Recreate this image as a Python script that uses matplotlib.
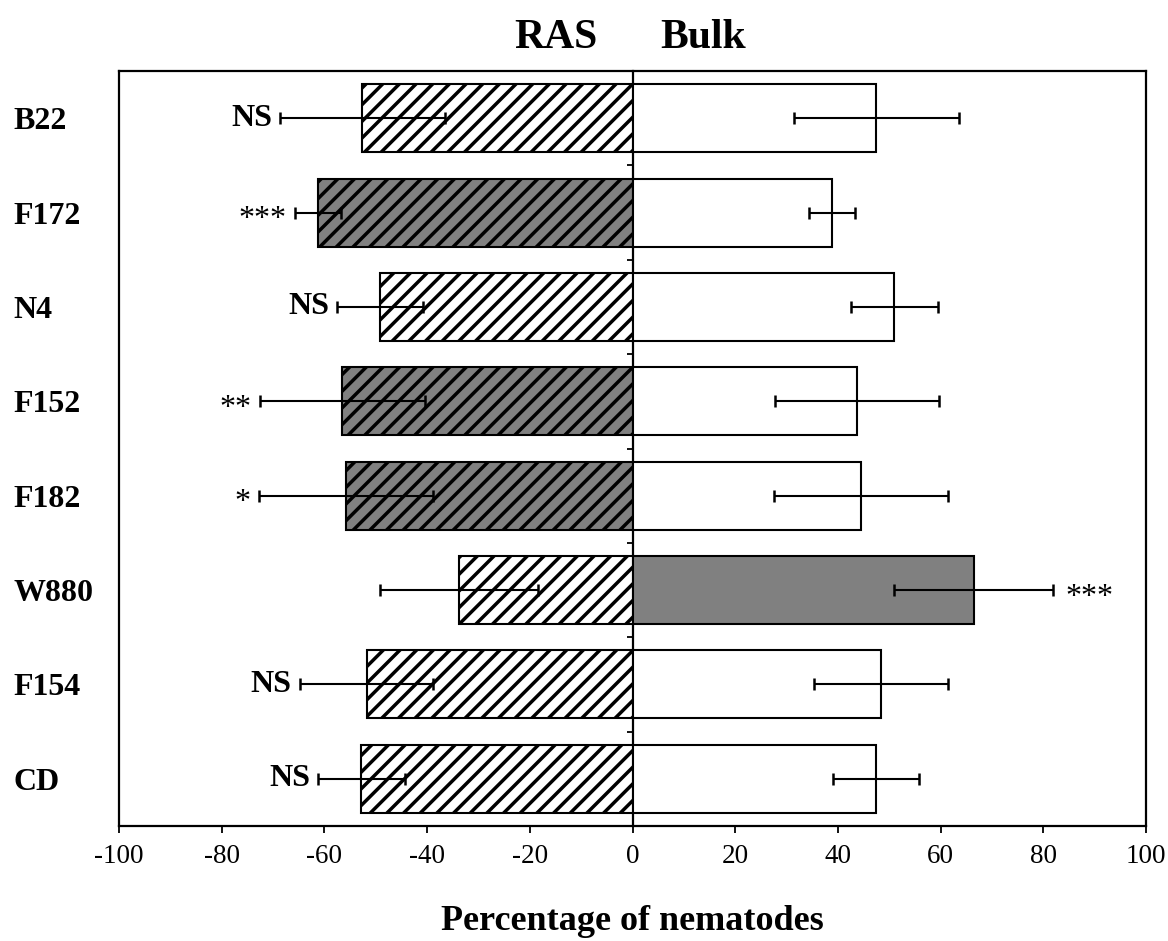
import numpy as np
import matplotlib
matplotlib.use("Agg")
import matplotlib.pyplot as plt
import matplotlib.transforms as mtransforms

plt.rcParams["font.family"] = ["Liberation Serif", "DejaVu Serif"]
plt.rcParams["hatch.linewidth"] = 2.5

# strains, top to bottom
strains = ["B22", "F172", "N4", "F152", "F182", "W880", "F154", "CD"]

# RAS side (plotted as negative percentages)
ras_values = [-52.6, -61.2, -49.2, -56.5, -55.8, -33.8, -51.8, -52.8]
ras_errors = [16.0, 4.5, 8.3, 16.0, 17.0, 15.4, 13.0, 8.4]
ras_signif = ["NS", "***", "NS", "**", "*", "", "NS", "NS"]
ras_shaded = [False, True, False, True, True, False, False, False]

# Bulk side
bulk_values = [47.5, 38.9, 51.0, 43.7, 44.5, 66.4, 48.4, 47.4]
bulk_errors = [16.0, 4.5, 8.4, 16.0, 17.0, 15.5, 13.1, 8.4]
bulk_signif = ["", "", "", "", "", "***", "", ""]
bulk_shaded = [False, False, False, False, False, True, False, False]

x_ticks = [-100, -80, -60, -40, -20, 0, 20, 40, 60, 80, 100]

grey = "#808080"

fig = plt.figure(figsize=(11.68, 9.41), dpi=100)
ax = fig.add_axes([0.1019, 0.1222, 0.8793, 0.8023])

y = np.arange(len(strains))

err_style = dict(ecolor="black", elinewidth=1.5, capsize=4.3, capthick=1.8)

ax.barh(
    y, ras_values,
    height=0.72,
    color=[grey if s else "white" for s in ras_shaded],
    edgecolor="black",
    linewidth=1.5,
    hatch="//",
    xerr=ras_errors,
    error_kw=err_style,
    zorder=2
)

ax.barh(
    y, bulk_values,
    height=0.72,
    color=[grey if s else "white" for s in bulk_shaded],
    edgecolor="black",
    linewidth=1.5,
    xerr=bulk_errors,
    error_kw=err_style,
    zorder=2
)


def mark(text, x, yy, side):
    # NS is bold; asterisks are plain and sit high in the font, so drop them a bit
    if text == "NS":
        weight, dy = "bold", 0
    else:
        weight, dy = "normal", -5
    if side == "left":
        offset, ha = (-6, dy), "right"
    else:
        offset, ha = (9, dy), "left"
    ax.annotate(
        text,
        xy=(x, yy),
        xytext=offset,
        textcoords="offset points",
        ha=ha,
        va="center",
        fontsize=23,
        fontweight=weight
    )


for i in range(len(strains)):
    if ras_signif[i]:
        mark(ras_signif[i], ras_values[i] - ras_errors[i], y[i], "left")
    if bulk_signif[i]:
        mark(bulk_signif[i], bulk_values[i] + bulk_errors[i], y[i], "right")

ax.set_xlim(-100, 100)
ax.set_ylim(len(strains) - 0.5, -0.5)

ax.set_xticks(x_ticks)
ax.set_xticklabels([str(t) for t in x_ticks])
ax.tick_params(axis="x", direction="out", length=5, width=1.3,
               labelsize=19.5, pad=8)

# strain names, left aligned outside the frame
ax.set_yticks(y)
ax.set_yticklabels(strains, fontsize=23, fontweight="bold", ha="left")
ax.tick_params(axis="y", length=0, pad=76)

for spine in ax.spines.values():
    spine.set_linewidth(1.6)

# centre axis at x = 0 with ticks between the strains
sec = ax.secondary_yaxis(0, transform=ax.transData)
sec.set_alignment("left")
sec.set_yticks(np.arange(len(strains) + 1) - 0.5)
sec.set_yticklabels([])
sec.tick_params(direction="out", length=4.5, width=1.3)
sec.spines["left"].set_linewidth(1.6)

# column headers
head = mtransforms.blended_transform_factory(ax.transData, ax.transAxes)
ax.text(-15, 1.030, "RAS", transform=head, ha="center", va="baseline",
        fontsize=30, fontweight="bold")
ax.text(13.8, 1.030, "Bulk", transform=head, ha="center", va="baseline",
        fontsize=30, fontweight="bold")

ax.set_xlabel("Percentage of nematodes", fontsize=26, fontweight="bold",
              labelpad=26)

fig.savefig("out.png", dpi=100)
